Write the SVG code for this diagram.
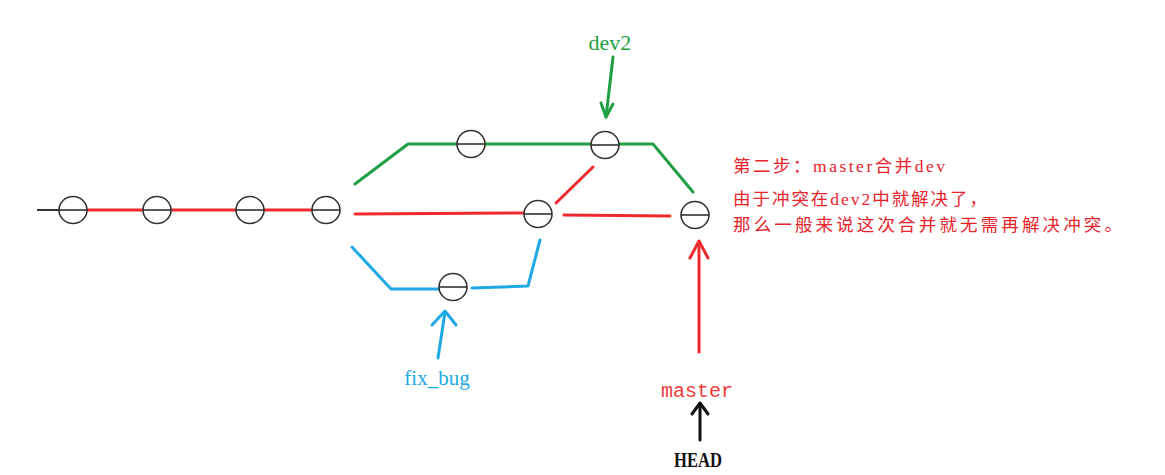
<svg xmlns="http://www.w3.org/2000/svg" width="1165" height="475" viewBox="0 0 1165 475">
<style>
.c{fill:#fff;stroke:#333;stroke-width:1.6}
.d{stroke:#333;stroke-width:1.6}
.r{stroke:#ee2a2e;stroke-width:3;fill:none;stroke-linecap:round;stroke-linejoin:round}
.g{stroke:#1f9e43;stroke-width:3;fill:none;stroke-linecap:round;stroke-linejoin:round}
.b{stroke:#1ea9e6;stroke-width:3;fill:none;stroke-linecap:round;stroke-linejoin:round}
.k{stroke:#111;stroke-width:3;fill:none;stroke-linecap:round;stroke-linejoin:round}
.cn{font-family:"Liberation Serif","Noto Sans CJK SC",serif;font-size:17.5px;fill:#e8222b}
</style>
<rect width="1165" height="475" fill="#fff"/>
<g id="connectors">
<line x1="37" y1="210" x2="60" y2="210" stroke="#333" stroke-width="2"/>
<polyline class="r" points="87,210 312,210"/>
<polyline class="g" points="355,184 408,144 653,144 693,192"/>
<polyline class="r" points="355,214 523,213"/>
<polyline class="r" points="556,203 593,167"/>
<polyline class="r" points="564,215 670,216"/>
<polyline class="b" points="352,247 391,289 439,289"/>
<polyline class="b" points="472,288 528,286 540,240"/>
<polyline class="g" points="613,57 606,117"/>
<polyline class="g" points="601,103 606,117 613,104"/>
<polyline class="b" points="438,358 445,312"/>
<polyline class="b" points="432,325 445,311 456,325"/>
<polyline class="r" points="699,352 699,242"/>
<polyline class="r" points="690,258 699,241 708,258"/>
<polyline class="k" points="700,440 700,404"/>
<polyline class="k" points="692,414 700,403 708,414"/>
</g>
<g id="c1"><ellipse class="c" cx="73" cy="210" rx="14" ry="13.5"/><line class="d" x1="59" y1="210" x2="87" y2="210"/></g>
<g id="c2"><ellipse class="c" cx="157" cy="210" rx="14" ry="13.5"/><line class="d" x1="143" y1="210" x2="171" y2="210"/></g>
<g id="c3"><ellipse class="c" cx="250" cy="210" rx="14" ry="13.5"/><line class="d" x1="236" y1="210" x2="264" y2="210"/></g>
<g id="c4"><ellipse class="c" cx="326" cy="210" rx="14" ry="13.5"/><line class="d" x1="312" y1="210" x2="340" y2="210"/></g>
<g id="g1"><ellipse class="c" cx="471" cy="144" rx="14" ry="13.5"/><line class="d" x1="457" y1="144" x2="485" y2="144"/></g>
<g id="g2"><ellipse class="c" cx="605" cy="145" rx="14" ry="13.5"/><line class="d" x1="591" y1="145" x2="619" y2="145"/></g>
<g id="m1"><ellipse class="c" cx="538" cy="214" rx="14" ry="13.5"/><line class="d" x1="524" y1="214" x2="552" y2="214"/></g>
<g id="m2"><ellipse class="c" cx="695" cy="215" rx="14" ry="13.5"/><line class="d" x1="681" y1="215" x2="709" y2="215"/></g>
<g id="f1"><ellipse class="c" cx="453" cy="287" rx="14" ry="13.5"/><line class="d" x1="439" y1="287" x2="467" y2="287"/></g>
<g id="dev2"><text x="610" y="50" text-anchor="middle" font-family="Liberation Serif, serif" font-size="22" fill="#1f9e43">dev2</text></g>
<g id="fix_bug"><text x="437" y="385" text-anchor="middle" font-family="Liberation Serif, serif" font-size="21" fill="#1ea9e6">fix_bug</text></g>
<g id="master"><text x="697" y="397" text-anchor="middle" font-family="Liberation Mono, monospace" font-size="20" fill="#f03a3e">master</text></g>
<g id="HEAD"><text x="698" y="467" text-anchor="middle" font-family="Liberation Serif, serif" font-weight="bold" font-size="22" textLength="48" lengthAdjust="spacingAndGlyphs" fill="#111">HEAD</text></g>
<g id="note">
<text class="cn" x="733" y="172" textLength="212" lengthAdjust="spacing">第二步：master合并dev</text>
<text class="cn" x="733" y="205" textLength="254" lengthAdjust="spacing">由于冲突在dev2中就解决了，</text>
<text class="cn" x="733" y="231" textLength="389" lengthAdjust="spacing">那么一般来说这次合并就无需再解决冲突。</text>
</g>
</svg>
